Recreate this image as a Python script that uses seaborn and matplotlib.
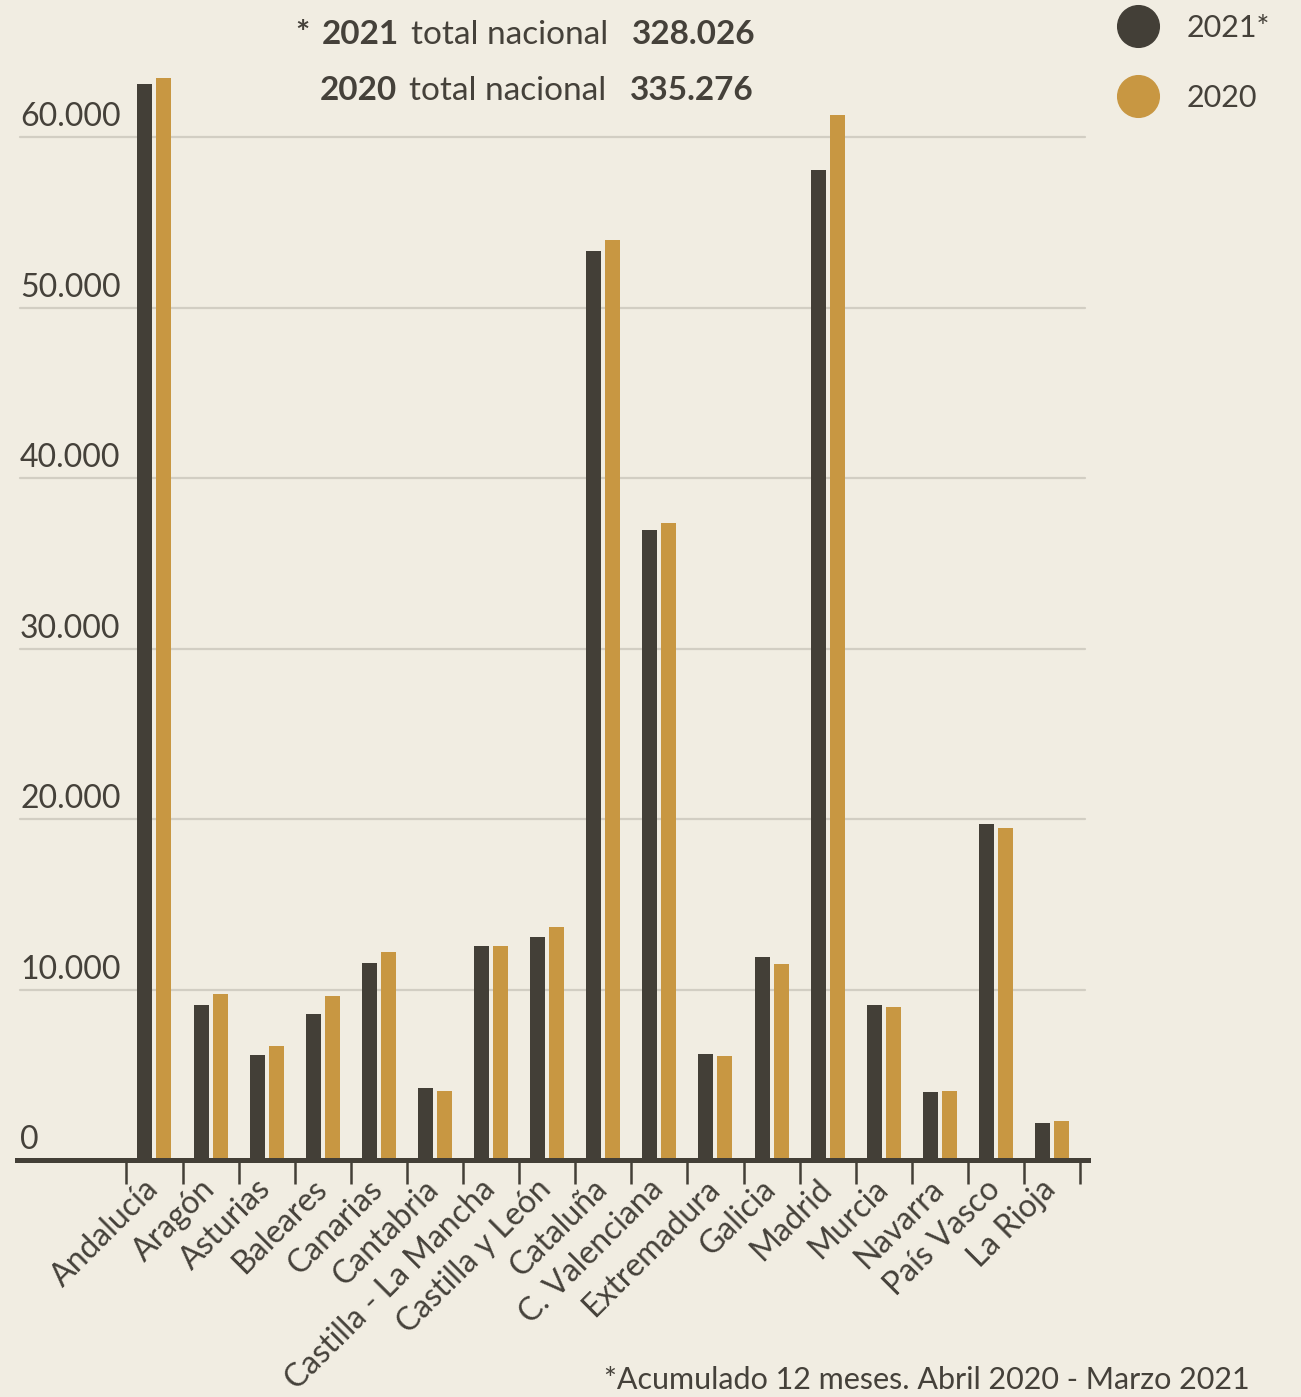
import matplotlib
matplotlib.use("Agg")
import matplotlib.pyplot as plt
import matplotlib.transforms as mtransforms
from matplotlib.lines import Line2D
import pandas as pd
import seaborn as sns

# datos (matriculaciones por comunidad)
regiones = ["Andalucía", "Aragón", "Asturias", "Baleares", "Canarias", "Cantabria",
            "Castilla - La Mancha", "Castilla y León", "Cataluña", "C. Valenciana",
            "Extremadura", "Galicia", "Madrid", "Murcia", "Navarra", "País Vasco", "La Rioja"]
valores_2021 = [63100, 9100, 6150, 8550, 11550, 4200, 12550, 13100, 53350, 36950,
                6200, 11900, 58100, 9100, 4000, 19700, 2150]
valores_2020 = [63450, 9750, 6700, 9600, 12200, 4050, 12550, 13650, 54000, 37400,
                6100, 11500, 61300, 8950, 4050, 19450, 2300]
series = ["2021*", "2020"]
yticks = [0, 10000, 20000, 30000, 40000, 50000, 60000]
ytick_labels = ["0", "10.000", "20.000", "30.000", "40.000", "50.000", "60.000"]

BG = "#f1ede2"
DARK = "#433f37"
GOLD = "#c89742"
TXT = "#45413a"
GRID = "#d2cec3"
FONT = "Lato"

df = pd.DataFrame({
    "region": regiones * 2,
    "valor": valores_2021 + valores_2020,
    "serie": [series[0]] * len(regiones) + [series[1]] * len(regiones),
})

sns.set_style("white")
plt.rcParams["font.family"] = [FONT, "DejaVu Sans"]

fig = plt.figure(figsize=(13.01, 13.97), dpi=100, facecolor=BG)
ax = fig.add_axes([17 / 1301, 237 / 1397, 1071 / 1301, 1125 / 1397])
ax.set_facecolor(BG)

sns.barplot(data=df, x="region", y="valor", hue="serie", hue_order=series,
            palette=[DARK, GOLD], width=0.677, gap=0.21, saturation=1,
            linewidth=0, legend=False, ax=ax, zorder=3)

ax.set_xlim(-2.45, 16.64)
ax.set_ylim(0, 66000)
ax.set_xlabel("")
ax.set_ylabel("")

# rejilla horizontal y etiquetas del eje y dentro del grafico
for v, lab in zip(yticks, ytick_labels):
    if v > 0:
        ax.axhline(v, xmin=3 / 1071, xmax=1068 / 1071, color=GRID, lw=1.6, zorder=1)
    off = mtransforms.ScaledTranslation(0.03, 0.11, fig.dpi_scale_trans)
    ax.text(0.0, v, lab, transform=mtransforms.blended_transform_factory(ax.transAxes, ax.transData) + off,
            ha="left", va="baseline", fontsize=23, color=TXT, family=FONT)
ax.set_yticks([])

for s in ["top", "right", "left"]:
    ax.spines[s].set_visible(False)
ax.spines["bottom"].set_color(DARK)
ax.spines["bottom"].set_linewidth(3.6)
ax.spines["bottom"].set_zorder(5)

# marcas entre grupos, etiquetas en el centro
n = len(regiones)
ax.set_xticks([i - 0.5 for i in range(n + 1)], minor=True)
ax.tick_params(axis="x", which="minor", bottom=True, length=17, width=1.8, color=DARK, direction="out")
ax.set_xticks(range(n))
ax.set_xticklabels(regiones, rotation=45, ha="right", fontsize=23, color=TXT, family=FONT)
ax.tick_params(axis="x", which="major", bottom=True, length=0, pad=10)
shift = mtransforms.ScaledTranslation(0.10, 0, fig.dpi_scale_trans)
for lab in ax.get_xticklabels():
    lab.set_transform(lab.get_transform() + shift)

# totales nacionales
def pieza(x, y, s, bold, ha):
    fig.text(x / 1301, 1 - y / 1397, s, ha=ha, va="center", fontsize=24, color=TXT,
             family=FONT, fontweight="bold" if bold else "normal")

pieza(310, 35, "*", True, "right")
pieza(399, 35, "2021", True, "right")
pieza(510, 35, "total nacional", False, "center")
pieza(632, 35, "328.026", True, "left")
pieza(397, 91, "2020", True, "right")
pieza(508, 91, "total nacional", False, "center")
pieza(630, 91, "335.276", True, "left")

handles = [Line2D([], [], marker="o", ls="none", markersize=30, markerfacecolor=c,
                  markeredgecolor=c) for c in (DARK, GOLD)]
fig.legend(handles, series, loc="upper left", bbox_to_anchor=(1115 / 1301, 1 - 14 / 1397),
           frameon=False, fontsize=22, handlelength=1.5, handletextpad=0.85,
           labelspacing=1.38, borderpad=0, borderaxespad=0, labelcolor=TXT,
           prop={"family": FONT, "size": 22})

fig.text(1250 / 1301, 1 - 1380 / 1397, "*Acumulado 12 meses. Abril 2020 - Marzo 2021",
         ha="right", va="center", fontsize=22, color=TXT, family=FONT)

fig.savefig("out.png", dpi=100, facecolor=BG)
